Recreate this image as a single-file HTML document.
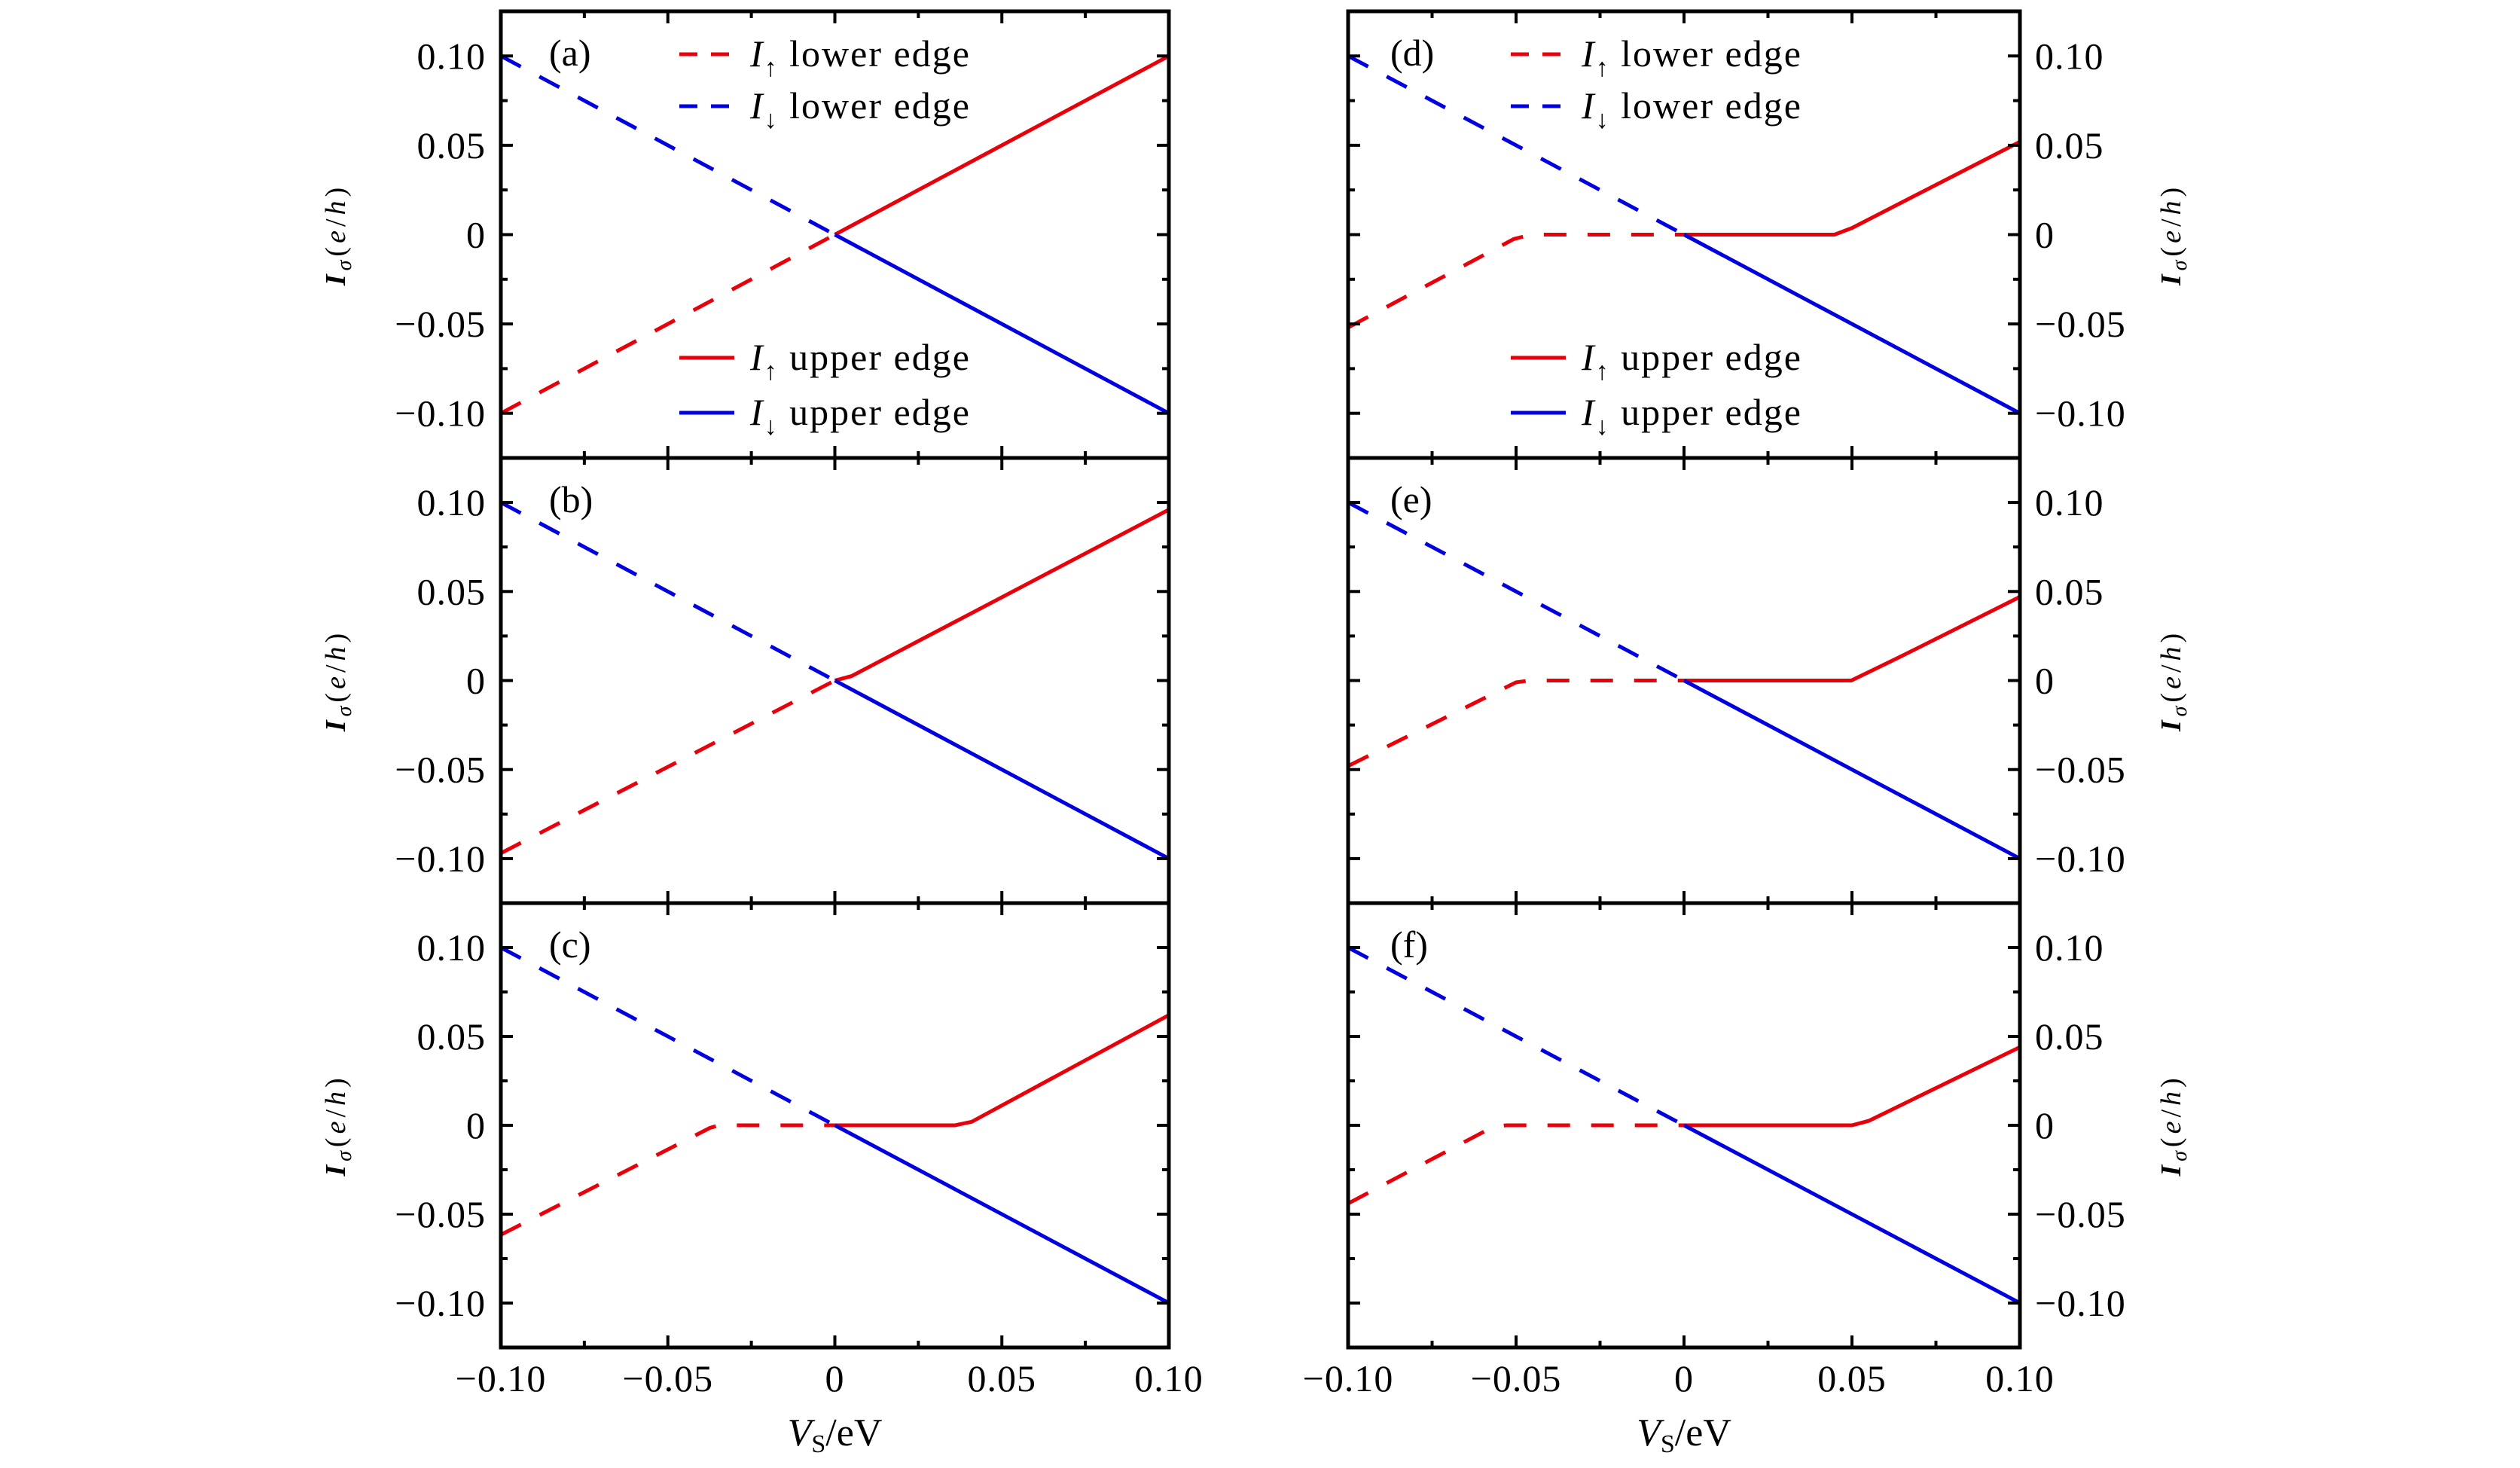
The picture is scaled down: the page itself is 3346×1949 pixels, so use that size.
<!DOCTYPE html>
<html><head><meta charset="utf-8"><style>
html,body{margin:0;padding:0;background:#fff;}
svg{display:block;font-family:"Liberation Serif",serif;}
</style></head><body>
<svg id="fig" width="3346" height="1949" viewBox="0 0 3346 1949" xmlns="http://www.w3.org/2000/svg"></svg>
<script>
// ---- data ----
const panelLabels = ["(a)","(b)","(c)","(d)","(e)","(f)"];
const yTickValues = [-0.10,-0.05,0,0.05,0.10];
const yTickLabels = ["\u22120.10","\u22120.05","0","0.05","0.10"];
const xTickValues = [-0.10,-0.05,0,0.05,0.10];
const xTickLabels = ["\u22120.10","\u22120.05","0","0.05","0.10"];
const upLowerX_a = [-0.1, 0];         const upLowerY_a = [-0.1, 0];
const upUpperX_a = [0, 0.1];          const upUpperY_a = [0, 0.1];
const upLowerX_b = [-0.1, 0];         const upLowerY_b = [-0.097, 0];
const upUpperX_b = [0, 0.005, 0.1];   const upUpperY_b = [0, 0.0025, 0.096];
const upLowerX_c = [-0.1, -0.0374, -0.0347, 0];  const upLowerY_c = [-0.0616, -0.0015, 0, 0];
const upUpperX_c = [0, 0.036, 0.041, 0.1];       const upUpperY_c = [0, 0, 0.002, 0.062];
const upLowerX_d = [-0.1, -0.0507, -0.0455, 0];  const upLowerY_d = [-0.052, -0.0025, 0, 0];
const upUpperX_d = [0, 0.0448, 0.050, 0.1];      const upUpperY_d = [0, 0, 0.0037, 0.052];
const upLowerX_e = [-0.1, -0.050, -0.046, 0];    const upLowerY_e = [-0.048, -0.001, 0, 0];
const upUpperX_e = [0, 0.0498, 0.064, 0.1];      const upUpperY_e = [0, 0, 0.013, 0.047];
const upLowerX_f = [-0.1, -0.057, -0.053, 0];    const upLowerY_f = [-0.044, -0.001, 0, 0];
const upUpperX_f = [0, 0.050, 0.055, 0.1];       const upUpperY_f = [0, 0, 0.0025, 0.044];
const dnLowerX = [-0.1, 0];  const dnLowerY = [0.1, 0];
const dnUpperX = [0, 0.1];   const dnUpperY = [0, -0.1];

const series = [
 [upLowerX_a,upLowerY_a,upUpperX_a,upUpperY_a],
 [upLowerX_b,upLowerY_b,upUpperX_b,upUpperY_b],
 [upLowerX_c,upLowerY_c,upUpperX_c,upUpperY_c],
 [upLowerX_d,upLowerY_d,upUpperX_d,upUpperY_d],
 [upLowerX_e,upLowerY_e,upUpperX_e,upUpperY_e],
 [upLowerX_f,upLowerY_f,upUpperX_f,upUpperY_f]
];

const NS="http://www.w3.org/2000/svg";
const svg=document.getElementById('fig');
function mk(tag,attrs,parent){const e=document.createElementNS(NS,tag);for(const k in attrs)e.setAttribute(k,attrs[k]);(parent||svg).appendChild(e);return e;}

const cols=[{l:665,r:1552,side:'left'},{l:1790,r:2682,side:'right'}];
const rows=[{t:15,b:608},{t:608,b:1199},{t:1199,b:1789}];

for(let p=0;p<6;p++){
  const c=cols[Math.floor(p/3)], rw=rows[p%3];
  const g=mk('g',{});
  
  
  const xs=v=>c.l+(v+0.1)/0.2*(c.r-c.l);
  const zero=(rw.t+rw.b)/2;
  const ys=v=>zero - v*(rw.b-rw.t)/0.25;
  const line=(X,Y)=>X.map((x,i)=>xs(x).toFixed(1)+','+ys(Y[i]).toFixed(1)).join(' ');
  const s=series[p];
  const rl=mk('polyline',{points:line(s[0],s[1]),fill:'none',stroke:'#e8000b','stroke-width':5,'stroke-dasharray':'30 28'},g);
  
  
  const bl=mk('polyline',{points:line(dnLowerX,dnLowerY),fill:'none',stroke:'#0000e0','stroke-width':5,'stroke-dasharray':'30 28'},g);
  
  
  const ru=mk('polyline',{points:line(s[2],s[3]),fill:'none',stroke:'#e8000b','stroke-width':5},g);
  
  
  const bu=mk('polyline',{points:line(dnUpperX,dnUpperY),fill:'none',stroke:'#0000e0','stroke-width':5},g);
  
  
  const fr=mk('rect',{x:c.l,y:rw.t,width:c.r-c.l,height:rw.b-rw.t,fill:'none',stroke:'#000','stroke-width':5},g);
  
  
  for(let v=-0.1;v<=0.1001;v+=0.025){
    const maj=Math.abs(Math.round(v/0.05)*0.05-v)<1e-6, L=maj?16:9;
    const X=xs(v);
    mk('line',{x1:X,y1:rw.b,x2:X,y2:rw.b-L,stroke:'#000','stroke-width':4},g);
    mk('line',{x1:X,y1:rw.t,x2:X,y2:rw.t+L,stroke:'#000','stroke-width':4},g);
  }
  for(let v=-0.1;v<=0.1001;v+=0.025){
    const maj=Math.abs(Math.round(v/0.05)*0.05-v)<1e-6, L=maj?16:9;
    const Y=ys(v);
    mk('line',{x1:c.l,y1:Y,x2:c.l+L,y2:Y,stroke:'#000','stroke-width':4},g);
    mk('line',{x1:c.r,y1:Y,x2:c.r-L,y2:Y,stroke:'#000','stroke-width':4},g);
  }
  yTickValues.forEach((v,i)=>{
    const t=mk('text',{x:c.side==='left'?c.l-20:c.r+20,y:ys(v)+17,'font-size':50,'letter-spacing':1,'text-anchor':c.side==='left'?'end':'start'},g);
    t.textContent=yTickLabels[i];
    
    
  });
  const yx=c.side==='left'?458:2895;
  const yt=mk('text',{x:0,y:0,'font-size':38,'letter-spacing':5,'text-anchor':'middle',transform:`translate(${yx},${zero}) rotate(-90)`},g);
  yt.innerHTML='<tspan font-style="italic" font-weight="bold">I</tspan><tspan font-style="italic" font-size="28" dy="8">σ</tspan><tspan dy="-8">(</tspan><tspan font-style="italic">e</tspan>/<tspan font-style="italic">h</tspan>)';
  
  
  const pl=mk('text',{x:c.l+(c.side==='left'?64:56),y:rw.t+72,'font-size':50},g);
  pl.textContent=panelLabels[p];
  
  
  if(p%3===2){
    xTickValues.forEach((v,i)=>{
      const t=mk('text',{x:xs(v),y:rw.b+58,'font-size':50,'letter-spacing':1,'text-anchor':'middle'},g);
      t.textContent=xTickLabels[i];
      
      
    });
    const xt=mk('text',{x:(c.l+c.r)/2,y:rw.b+130,'font-size':52,'text-anchor':'middle'},g);
    xt.innerHTML='<tspan font-style="italic">V</tspan><tspan font-size="34" dy="9">S</tspan><tspan dy="-9">/eV</tspan>';
    
    
  }
  if(p%3===0){
    const lx0=c.side==='left'?902:2006, lx1=lx0+73, tx=lx1+21;
    const ents=[[72,'#e8000b',true,'↑','lower edge'],[141,'#0000e0',true,'↓','lower edge'],[475,'#e8000b',false,'↑','upper edge'],[548,'#0000e0',false,'↓','upper edge']];
    ents.forEach(e=>{
      const lg=mk('g',{},g);
      
      
      const y=rw.t+e[0]-15;
      mk('line',{x1:lx0,y1:y,x2:lx1,y2:y,stroke:e[1],'stroke-width':5,'stroke-dasharray':e[2]?'24 18':'none'},lg);
      const t=mk('text',{x:tx,y:y+16,'font-size':50,'letter-spacing':2},lg);
      t.innerHTML='<tspan font-style="italic">I</tspan><tspan font-size="34" dy="13">'+e[3]+'</tspan><tspan dy="-13"> '+e[4]+'</tspan>';
    });
  }
}
</script>
</body></html>
